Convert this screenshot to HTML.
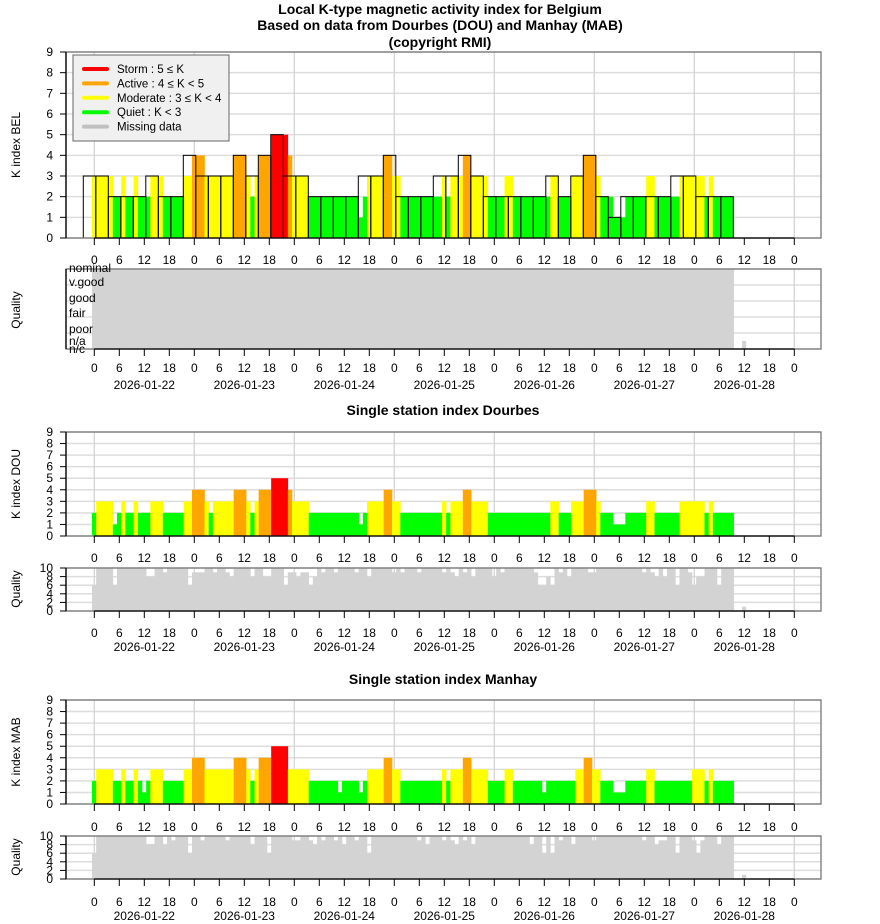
<!DOCTYPE html>
<html><head><meta charset="utf-8"><style>
html,body{margin:0;padding:0;background:#fff}
svg{display:block;font-family:"Liberation Sans",sans-serif}
</style></head><body>
<svg id="s" width="880" height="924" viewBox="0 0 880 924" xmlns="http://www.w3.org/2000/svg"></svg>
<script>
const S=document.getElementById('s');let H='';
const col=k=>k>=5?'#ff0000':k>=4?'#ffa500':k>=3?'#ffff00':'#00ff00';
function runs(a){const r=[];for(const [v,n] of a)for(let j=0;j<n;j++)r.push(v);return r;}
const DOU=runs([[2,1],[3,4],[1,1],[2,1],[3,1],[2,2],[3,1],[2,3],[3,3],[2,5],[3,2],[4,3],[3,1],[2,1],[3,5],[4,3],[3,1],[2,1],[3,1],[4,3],[5,4],[4,1],[3,4],[2,12],[1,1],[2,1],[3,4],[4,2],[3,2],[2,10],[3,1],[2,1],[3,3],[4,2],[3,4],[2,15],[3,2],[2,3],[3,3],[4,3],[3,1],[2,3],[1,3],[2,5],[3,2],[2,6],[3,6],[2,1],[3,1],[2,5]]);
const MAB=runs([[2,1],[3,4],[2,2],[3,1],[2,2],[3,1],[2,1],[1,1],[2,1],[3,3],[2,5],[3,2],[4,3],[3,7],[4,3],[3,1],[2,1],[3,1],[4,3],[5,4],[3,5],[2,7],[1,1],[2,4],[1,1],[2,1],[3,4],[4,2],[3,2],[2,10],[3,1],[2,1],[3,3],[4,2],[3,4],[2,4],[3,2],[2,7],[1,1],[2,7],[3,2],[4,2],[3,2],[2,3],[1,3],[2,5],[3,2],[2,9],[3,3],[2,1],[3,1],[2,5]]);
const BELh=DOU.map((v,i)=>Math.max(v,MAB[i]||0));BELh[0]=3;
const BEL3=[3,3,2,2,2,3,2,2,4,3,3,3,4,3,4,5,3,3,2,2,2,2,3,3,4,2,2,2,3,3,4,3,2,2,2,2,2,3,2,3,4,2,1,2,2,2,2,3,3,2,2,2];
const X0=94.3,HW=100/24;
function frame(t,b,max,step){
  const u=(b-t)/max;
  for(let k=0;k<=max;k+=step){const y=b-k*u;
    H+=`<line x1="66" x2="821" y1="${y}" y2="${y}" stroke="#ddd" stroke-width="1.5"/>`;}
  for(let d=0;d<=7;d++){const x=X0+100*d;H+=`<line x1="${x}" x2="${x}" y1="${t}" y2="${b}" stroke="#d4d4d4" stroke-width="1.3"/>`;}
  return u;
}
function border(t,b,max,step,labels){
  const u=(b-t)/max;
  H+=`<rect x="66" y="${t}" width="755" height="${b-t}" fill="none" stroke="#777" stroke-width="1.3"/>`;
  H+=`<line x1="66" x2="66" y1="${t}" y2="${b}" stroke="#000" stroke-width="1.3"/>`;
  H+=`<line x1="${X0}" x2="${X0+700}" y1="${b}" y2="${b}" stroke="#000" stroke-width="1.3"/>`;
  if(!labels){for(let k=0;k<=max;k+=step){const y=b-k*u;
    H+=`<line x1="60" x2="66" y1="${y}" y2="${y}" stroke="#000"/><text x="53" y="${y+4}" font-size="12" text-anchor="end">${k}</text>`;}}
  for(let k=0;k<=28;k++){const x=X0+25*k;H+=`<line x1="${x}" x2="${x}" y1="${b}" y2="${b+7}" stroke="#000"/>`;}
}
function xlabels(y,dates,doff){
  for(let k=0;k<=28;k++){const x=X0+25*k;H+=`<text x="${x}" y="${y}" font-size="12" text-anchor="middle">${[0,6,12,18][k%4]}</text>`;}
  if(dates)for(let d=0;d<7;d++)H+=`<text x="${X0+50+100*d}" y="${y+doff}" font-size="12" text-anchor="middle">2026-01-${22+d}</text>`;
}
function hbars(arr,b,u){arr.forEach((v,i)=>{const x=92+HW*i;H+=`<rect x="${x}" y="${b-v*u}" width="${HW+0.3}" height="${v*u}" fill="${col(v)}"/>`;});}
function qbars(q,b,u){for(let i=0;i<154;i++){const v=q[i]!==undefined?q[i]:10;const x=92+HW*i;H+=`<rect x="${x}" y="${b-v*u}" width="${HW+0.3}" height="${v*u}" fill="#d3d3d3"/>`;}
  H+=`<rect x="${92+HW*156}" y="${b-u}" width="${HW}" height="${u}" fill="#d3d3d3"/>`;}
function ylab(txt,x,y){H+=`<text x="${x}" y="${y}" font-size="12" text-anchor="middle" transform="rotate(-90 ${x} ${y})">${txt}</text>`;}
H+=`<text x="440" y="14" font-size="14" font-weight="bold" text-anchor="middle">Local K-type magnetic activity index for Belgium</text>`;
H+=`<text x="440" y="30" font-size="14" font-weight="bold" text-anchor="middle">Based on data from Dourbes (DOU) and Manhay (MAB)</text>`;
H+=`<text x="440" y="47" font-size="14" font-weight="bold" text-anchor="middle">(copyright RMI)</text>`;
let u=frame(52,238,9,1);hbars(BELh,238,u);
BEL3.forEach((v,n)=>{const x=83.3+12.5*n;H+=`<rect x="${x}" y="${238-v*u}" width="12.5" height="${v*u}" fill="none" stroke="#000" stroke-width="1"/>`;});
border(52,238,9,1);xlabels(264,false);ylab('K index BEL',20,145);
H+=`<rect x="73" y="55" width="156" height="86" fill="#f0f0f0" stroke="#666"/>`;
[['#ff0000','Storm : 5 ≤ K'],['#ffa500','Active : 4 ≤ K &lt; 5'],['#ffff00','Moderate : 3 ≤ K &lt; 4'],['#00ff00','Quiet : K &lt; 3'],['#c0c0c0','Missing data']].forEach((e,j)=>{const y=69+14.4*j;
H+=`<line x1="84" x2="107" y1="${y}" y2="${y}" stroke="${e[0]}" stroke-width="4" stroke-linecap="round"/><text x="117" y="${y+4}" font-size="11.5">${e[1]}</text>`;});
u=frame(269,349,10,2);qbars({},349,u);border(269,349,10,2,true);
[['nominal',272],['v.good',286],['good',302],['fair',317],['poor',333],['n/a',345],['n/c',353]].forEach(l=>H+=`<text x="69" y="${l[1]}" font-size="12">${l[0]}</text>`);
xlabels(372,true,17);ylab('Quality',20,310);
H+=`<text x="443" y="415" font-size="14" font-weight="bold" text-anchor="middle">Single station index Dourbes</text>`;
u=frame(432,536,9,1);hbars(DOU,536,u);border(432,536,9,1);xlabels(562,false);ylab('K index DOU',20,484);
const qd={0:6,5:6,13:8,14:8,17:9,23:6,24:9,25:9,26:9,29:9,32:9,33:8,38:8,41:8,42:8,46:6,47:9,48:9,49:8,50:9,51:9,52:6,53:8,55:9,58:9,63:9,66:8,72:9,74:9,78:9,84:9,86:9,87:8,89:9,91:8,96:8,98:9,106:9,107:6,108:6,109:8,110:6,112:9,114:8,119:9,120:9,132:9,134:9,135:8,137:8,140:6,143:9,144:6,145:8,146:8,150:6};
u=frame(568,611,10,2);qbars(qd,611,u);border(568,611,10,2);xlabels(637,true,14);ylab('Quality',20,589);
H+=`<text x="443" y="684" font-size="14" font-weight="bold" text-anchor="middle">Single station index Manhay</text>`;
u=frame(700,804,9,1);hbars(MAB,804,u);border(700,804,9,1);xlabels(831,false);ylab('K index MAB',20,752);
const qm={0:6,13:8,14:8,17:8,19:9,23:6,26:9,32:9,38:8,42:6,48:9,49:9,52:9,53:8,55:9,58:9,60:8,63:9,66:6,78:9,80:8,84:9,86:9,87:8,89:9,91:8,105:8,108:6,110:6,112:9,115:8,120:9,132:9,135:8,136:9,137:9,140:6,144:9,145:6,146:9,150:8};
u=frame(836,879,10,2);qbars(qm,879,u);border(836,879,10,2);xlabels(906,true,14);ylab('Quality',20,857);
S.innerHTML=H;
</script>
</body></html>
